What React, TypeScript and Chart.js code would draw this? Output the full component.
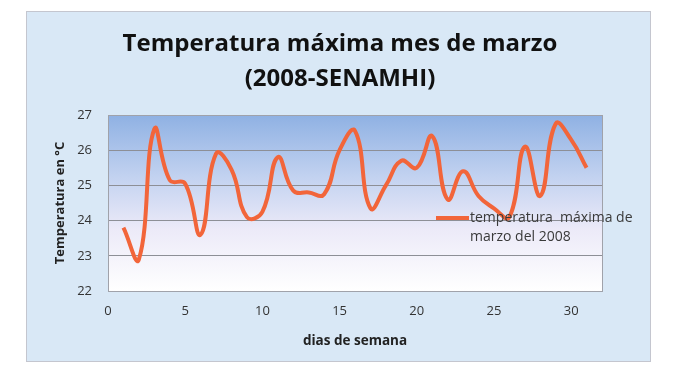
import React, { useEffect, useRef } from "react";
import { Chart, registerables } from "chart.js";

Chart.register(...registerables);

const days = [1, 2, 3, 4, 5, 6, 7, 8, 9, 10, 11, 12, 13, 14, 15, 16, 17, 18, 19, 20, 21, 22, 23, 24, 25, 26, 27, 28, 29, 30, 31];
const temps = [23.8, 22.9, 26.6, 25.15, 25.05, 23.6, 25.9, 25.45, 24.1, 24.25, 25.8, 24.85, 24.8, 24.75, 26.0, 26.55, 24.35, 25.0, 25.7, 25.5, 26.4, 24.6, 25.4, 24.7, 24.35, 24.1, 26.1, 24.7, 26.75, 26.3, 25.5];
const xTicks = [0, 5, 10, 15, 20, 25, 30];
const titleLines = ["Temperatura máxima mes de marzo", "(2008-SENAMHI)"];
const seriesName = ["temperatura  máxima de", "marzo del 2008"];
const xTitle = "dias de semana";
const yTitle = "Temperatura en °C";

const FONT = "'Open Sans', Lato, sans-serif";
const LINE = "#f2653a";

const frame = {
  id: "frame",
  beforeDraw(chart: any) {
    const { ctx, chartArea: a } = chart;
    ctx.save();
    ctx.fillStyle = "#ffffff";
    ctx.fillRect(0, 0, chart.width, chart.height);
    ctx.fillStyle = "#d9e8f6";
    ctx.fillRect(26, 11, 624, 350);
    ctx.strokeStyle = "#c4c6cf";
    ctx.lineWidth = 1;
    ctx.strokeRect(26.5, 11.5, 624, 350);
    const g = ctx.createLinearGradient(0, a.top, 0, a.bottom);
    g.addColorStop(0, "#8fb1e3");
    g.addColorStop(0.35, "#c2d2f0");
    g.addColorStop(0.65, "#eceaf8");
    g.addColorStop(1, "#ffffff");
    ctx.fillStyle = g;
    ctx.fillRect(a.left, a.top, a.right - a.left, a.bottom - a.top);
    // titles
    ctx.fillStyle = "#111111";
    ctx.font = `bold 24px ${FONT}`;
    ctx.textAlign = "center";
    ctx.textBaseline = "alphabetic";
    ctx.fillText(titleLines[0], 340, 51);
    ctx.fillText(titleLines[1], 340, 86);
    ctx.restore();
  },
  afterDatasetsDraw(chart: any) {
    const { ctx, chartArea: a } = chart;
    ctx.save();
    ctx.strokeStyle = "#a0a2aa";
    ctx.lineWidth = 1;
    ctx.strokeRect(Math.round(a.left) + 0.5, Math.round(a.top) + 0.5, Math.round(a.right - a.left), Math.round(a.bottom - a.top));
    // legend
    ctx.strokeStyle = LINE;
    ctx.lineWidth = 4;
    ctx.beginPath();
    ctx.moveTo(436, 218);
    ctx.lineTo(469, 218);
    ctx.stroke();
    ctx.fillStyle = "#3a3a3a";
    ctx.font = `14px ${FONT}`;
    ctx.textAlign = "left";
    ctx.textBaseline = "middle";
    ctx.fillText(seriesName[0], 470, 218);
    ctx.fillText(seriesName[1], 470, 237);
    ctx.restore();
  },
};

export default function App() {
  const ref = useRef<HTMLCanvasElement>(null);
  useEffect(() => {
    const chart = new Chart(ref.current!, {
      type: "line",
      data: {
        datasets: [
          {
            label: seriesName.join(" "),
            data: days.map((d, i) => ({ x: d, y: temps[i] })),
            borderColor: LINE,
            borderWidth: 4,
            pointRadius: 0,
            tension: 0.45,
            fill: false,
          },
        ],
      },
      options: {
        animation: false,
        responsive: false,
        layout: { padding: { top: 115, right: 90, left: 0, bottom: 0 } },
        plugins: { legend: { display: false }, title: { display: false }, tooltip: { enabled: false } },
        scales: {
          x: {
            type: "linear",
            min: 0,
            max: 32,
            afterFit: (s: any) => { s.height = 85; },
            afterBuildTicks: (s: any) => { s.ticks = xTicks.map((v) => ({ value: v })); },
            grid: { display: false, drawTicks: false },
            border: { display: false },
            ticks: { padding: 12, color: "#333333", font: { family: FONT, size: 13 }, maxRotation: 0 },
            title: { display: true, text: xTitle, color: "#222222", font: { family: FONT, size: 13.5, weight: "bold" }, padding: { top: 0, bottom: 27 } },
          },
          y: {
            min: 22,
            max: 27,
            afterFit: (s: any) => { s.width = 108; },
            grid: { color: "#8d8f96", drawTicks: false, lineWidth: 1 },
            border: { display: false },
            ticks: { stepSize: 1, padding: 16, color: "#333333", font: { family: FONT, size: 13 } },
            title: { display: true, text: yTitle, color: "#222222", font: { family: FONT, size: 13, weight: "bold" }, padding: { top: 52, bottom: 0 } },
          },
        },
      },
      plugins: [frame],
    });
    return () => chart.destroy();
  }, []);
  return (
    <div style={{ position: "absolute", left: 0, top: 0, width: 692, height: 376 }}>
      <canvas ref={ref} width={692} height={376} style={{ width: 692, height: 376 }} />
    </div>
  );
}
